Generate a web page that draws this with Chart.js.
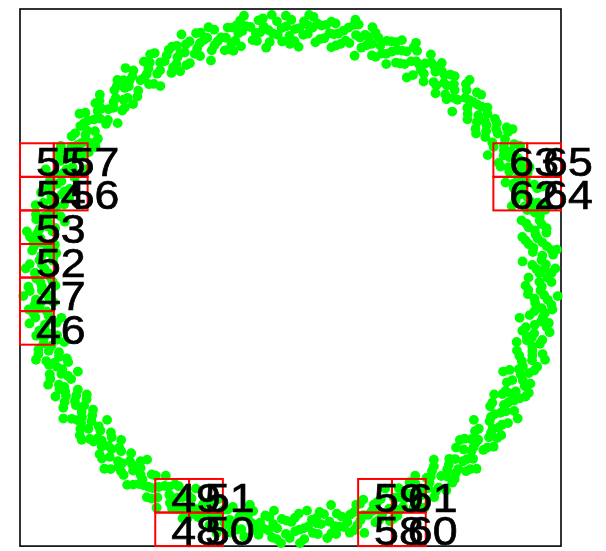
<!DOCTYPE html>
<html>
<head>
<meta charset="utf-8">
<script src="https://cdn.jsdelivr.net/npm/chart.js@4.4.1/dist/chart.umd.min.js"></script>
<style>
  body { margin: 0; background: #fff; }
  canvas { display: block; }
</style>
</head>
<body>
<canvas id="ring" width="606" height="551"></canvas>
<script>
const ringQ1 = [
[0.880,0.000],[0.950,0.000],[0.909,0.032],[0.979,0.034],[0.939,0.033],[0.858,0.060],[0.928,0.065],
[0.896,0.095],[0.965,0.102],[0.985,0.104],[0.881,0.124],[0.931,0.131],[0.906,0.160],[0.946,0.167],[0.857,0.151],
[0.929,0.198],[0.880,0.187],[0.854,0.213],[0.922,0.230],[0.875,0.251],[0.942,0.270],[0.903,0.259],
[0.818,0.266],[0.884,0.287],[0.846,0.308],[0.912,0.332],[0.931,0.339],[0.825,0.334],[0.871,0.353],
[0.841,0.374],[0.877,0.391],[0.795,0.354],[0.854,0.416],[0.809,0.394],[0.777,0.413],[0.839,0.446],
[0.788,0.455],[0.849,0.490],[0.814,0.470],[0.729,0.456],[0.789,0.493],[0.746,0.503],[0.804,0.542],[0.821,0.553],
[0.720,0.523],[0.760,0.553],[0.725,0.567],[0.756,0.591],[0.686,0.536],[0.728,0.611],[0.689,0.579],
[0.654,0.589],[0.706,0.636],[0.654,0.632],[0.705,0.681],[0.676,0.653],[0.598,0.618],[0.646,0.669],
[0.602,0.669],[0.649,0.721],[0.662,0.736],[0.572,0.682],[0.604,0.720],[0.567,0.725],[0.591,0.756],[0.536,0.686],
[0.559,0.769],[0.529,0.728],[0.492,0.730],[0.531,0.788],[0.482,0.772],[0.519,0.831],[0.498,0.797],
[0.430,0.745],[0.465,0.805],[0.422,0.795],[0.455,0.857],[0.464,0.874],[0.390,0.800],[0.412,0.845],
[0.374,0.841],[0.391,0.877],[0.354,0.795],[0.356,0.881],[0.338,0.834],[0.301,0.827],[0.325,0.893],
[0.281,0.865],[0.303,0.932],[0.290,0.894],[0.237,0.826],[0.257,0.894],[0.218,0.873],[0.235,0.941],[0.240,0.960],
[0.185,0.870],[0.196,0.919],[0.160,0.906],[0.167,0.946],[0.151,0.857],[0.132,0.941],[0.125,0.891],
[0.092,0.876],[0.100,0.945],[0.064,0.908],[0.069,0.978],[0.066,0.938],[0.030,0.859],[0.033,0.929],
[0.920,0.016],[0.965,0.017],[0.894,0.047],[0.944,0.049],[0.931,0.082],[0.971,0.085],[0.898,0.110],[0.948,0.116],
[0.869,0.138],[0.914,0.145],[0.903,0.176],[0.947,0.184],[0.872,0.201],[0.921,0.213],[0.903,0.242],[0.942,0.252],
[0.865,0.265],[0.913,0.279],[0.832,0.287],[0.875,0.301],[0.859,0.330],[0.901,0.346],[0.824,0.350],[0.870,0.369],
[0.847,0.395],[0.884,0.412],[0.806,0.411],[0.851,0.434],[0.770,0.427],[0.809,0.448],[0.789,0.474],[0.827,0.497],
[0.751,0.487],[0.793,0.515],[0.766,0.536],[0.799,0.559],[0.723,0.545],[0.763,0.575],[0.684,0.554],[0.719,0.582],
[0.694,0.604],[0.728,0.633],[0.655,0.610],[0.691,0.644],[0.661,0.661],[0.689,0.689],[0.617,0.662],[0.651,0.698],
[0.577,0.664],[0.607,0.698],[0.579,0.715],[0.607,0.750],[0.539,0.715],[0.569,0.755],[0.536,0.766],[0.559,0.799],
[0.493,0.759],[0.520,0.801],[0.453,0.754],[0.476,0.793],[0.446,0.805],[0.468,0.844],[0.406,0.797],[0.429,0.842],
[0.395,0.847],[0.412,0.884],[0.354,0.833],[0.373,0.879],[0.315,0.822],[0.332,0.864],[0.300,0.870],[0.314,0.912],
[0.262,0.856],[0.276,0.904],[0.242,0.903],[0.252,0.942],[0.204,0.882],[0.215,0.931],[0.168,0.864],[0.176,0.908],
[0.144,0.909],[0.151,0.953],[0.109,0.888],[0.115,0.938],[0.082,0.931],[0.085,0.971],[0.047,0.904],[0.050,0.954],
[0.015,0.880],[0.016,0.925]
];
const ringQ2 = [
[-0.004,0.900],[0.003,0.960],[-0.002,0.870],[-0.033,0.929],[-0.031,0.879],[-0.069,0.978],[-0.064,0.908],
[-0.090,0.856],[-0.099,0.935],[-0.102,0.965],[-0.128,0.911],[-0.124,0.881],[-0.165,0.936],[-0.172,0.975],
[-0.183,0.861],[-0.193,0.910],[-0.200,0.939],[-0.218,0.873],[-0.232,0.931],[-0.211,0.844],
[-0.257,0.894],[-0.243,0.846],[-0.303,0.932],[-0.281,0.865],[-0.294,0.808],[-0.321,0.884],[-0.332,0.912],
[-0.345,0.853],[-0.334,0.825],[-0.387,0.868],[-0.403,0.905],[-0.385,0.791],[-0.407,0.836],[-0.420,0.863],
[-0.422,0.795],[-0.450,0.848],[-0.408,0.768],[-0.465,0.805],[-0.440,0.762],[-0.519,0.831],[-0.482,0.772],
[-0.481,0.713],[-0.525,0.779],[-0.542,0.804],[-0.541,0.744],[-0.523,0.720],[-0.585,0.749],[-0.610,0.780],
[-0.566,0.674],[-0.598,0.712],[-0.617,0.735],[-0.602,0.669],[-0.642,0.713],[-0.582,0.646],
[-0.646,0.669],[-0.612,0.633],[-0.705,0.681],[-0.654,0.632],[-0.639,0.575],[-0.698,0.629],[-0.721,0.649],
[-0.705,0.592],[-0.682,0.572],[-0.749,0.585],[-0.780,0.610],[-0.712,0.517],[-0.752,0.547],[-0.777,0.564],
[-0.746,0.503],[-0.796,0.537],[-0.721,0.486],[-0.789,0.493],[-0.746,0.466],[-0.849,0.490],[-0.788,0.455],
[-0.759,0.403],[-0.830,0.441],[-0.857,0.455],[-0.827,0.403],[-0.800,0.390],[-0.868,0.387],[-0.905,0.403],
[-0.816,0.330],[-0.862,0.349],[-0.890,0.360],[-0.846,0.308],[-0.902,0.328],[-0.818,0.298],
[-0.884,0.287],[-0.837,0.272],[-0.942,0.270],[-0.875,0.251],[-0.834,0.208],[-0.912,0.227],[-0.941,0.235],
[-0.900,0.191],[-0.870,0.185],[-0.936,0.165],[-0.975,0.172],[-0.871,0.122],[-0.921,0.129],[-0.950,0.133],
[-0.896,0.095],[-0.955,0.101],[-0.866,0.091],[-0.928,0.065],[-0.878,0.062],[-0.979,0.034],[-0.909,0.032],
[-0.016,0.935],[-0.017,0.975],[-0.047,0.904],[-0.050,0.954],[-0.077,0.877],[-0.081,0.921],[-0.112,0.913],[-0.118,0.958],
[-0.140,0.884],[-0.148,0.933],[-0.178,0.918],[-0.186,0.957],[-0.204,0.882],[-0.215,0.931],[-0.228,0.850],[-0.239,0.893],
[-0.269,0.880],[-0.282,0.923],[-0.291,0.846],[-0.308,0.893],[-0.335,0.873],[-0.349,0.910],[-0.354,0.833],[-0.373,0.879],
[-0.372,0.798],[-0.391,0.838],[-0.418,0.820],[-0.438,0.860],[-0.434,0.783],[-0.458,0.827],[-0.482,0.801],[-0.502,0.836],
[-0.493,0.759],[-0.520,0.801],[-0.505,0.721],[-0.531,0.758],[-0.554,0.735],[-0.581,0.771],[-0.563,0.696],[-0.595,0.734],
[-0.613,0.706],[-0.640,0.736],[-0.617,0.662],[-0.651,0.698],[-0.622,0.622],[-0.654,0.654],[-0.673,0.627],[-0.706,0.658],
[-0.675,0.587],[-0.713,0.620],[-0.727,0.588],[-0.758,0.614],[-0.723,0.545],[-0.763,0.575],[-0.721,0.505],[-0.758,0.531],
[-0.772,0.501],[-0.809,0.526],[-0.767,0.461],[-0.810,0.487],[-0.818,0.453],[-0.853,0.473],[-0.806,0.411],[-0.851,0.434],
[-0.798,0.372],[-0.838,0.391],[-0.847,0.359],[-0.888,0.377],[-0.836,0.321],[-0.882,0.339],[-0.884,0.304],[-0.922,0.317],
[-0.865,0.265],[-0.913,0.279],[-0.850,0.228],[-0.893,0.239],[-0.896,0.207],[-0.940,0.217],[-0.879,0.171],[-0.928,0.180],
[-0.924,0.146],[-0.963,0.152],[-0.898,0.110],[-0.948,0.116],[-0.877,0.077],[-0.921,0.081],[-0.919,0.048],[-0.964,0.050],
[-0.895,0.016],[-0.945,0.017]
];
const ringQ3 = [
[-0.940,-0.004],[-0.890,0.004],[-0.969,-0.034],[-0.869,-0.030],[-0.919,-0.032],[-0.898,-0.063],[-0.988,-0.069],
[-0.876,-0.092],[-0.945,-0.100],[-0.925,-0.098],[-0.950,-0.133],[-0.901,-0.126],[-0.847,-0.150],[-0.965,-0.171],[-0.887,-0.157],
[-0.910,-0.193],[-0.929,-0.198],[-0.912,-0.227],[-0.863,-0.215],[-0.932,-0.268],[-0.836,-0.240],[-0.884,-0.254],
[-0.856,-0.278],[-0.941,-0.306],[-0.827,-0.301],[-0.893,-0.325],[-0.874,-0.318],[-0.890,-0.360],[-0.844,-0.341],
[-0.786,-0.350],[-0.896,-0.399],[-0.823,-0.366],[-0.836,-0.407],[-0.854,-0.416],[-0.830,-0.441],[-0.786,-0.417],
[-0.840,-0.485],[-0.753,-0.435],[-0.797,-0.460],[-0.763,-0.477],[-0.840,-0.525],[-0.730,-0.492],[-0.788,-0.531],[-0.771,-0.520],
[-0.777,-0.564],[-0.736,-0.535],[-0.678,-0.530],[-0.772,-0.604],[-0.709,-0.554],[-0.712,-0.598],[-0.728,-0.611],
[-0.698,-0.629],[-0.661,-0.595],[-0.697,-0.674],[-0.626,-0.605],[-0.661,-0.639],[-0.626,-0.647],[-0.688,-0.712],
[-0.589,-0.654],[-0.636,-0.706],[-0.622,-0.691],[-0.617,-0.735],[-0.585,-0.697],[-0.530,-0.678],[-0.604,-0.772],[-0.554,-0.709],
[-0.547,-0.752],[-0.559,-0.769],[-0.525,-0.779],[-0.498,-0.738],[-0.514,-0.823],[-0.461,-0.738],[-0.488,-0.780],
[-0.450,-0.779],[-0.495,-0.857],[-0.413,-0.777],[-0.446,-0.839],[-0.436,-0.821],[-0.420,-0.863],[-0.399,-0.818],
[-0.350,-0.786],[-0.399,-0.896],[-0.366,-0.823],[-0.349,-0.862],[-0.356,-0.881],[-0.321,-0.884],[-0.304,-0.837],
[-0.300,-0.922],[-0.269,-0.827],[-0.284,-0.875],[-0.248,-0.865],[-0.273,-0.951],[-0.213,-0.854],[-0.230,-0.922],[-0.225,-0.902],
[-0.200,-0.939],[-0.189,-0.890],[-0.150,-0.847],[-0.171,-0.965],[-0.157,-0.887],[-0.129,-0.921],[-0.132,-0.941],
[-0.099,-0.935],[-0.093,-0.886],[-0.068,-0.968],[-0.061,-0.868],[-0.064,-0.918],[-0.032,-0.899],[-0.035,-0.989],
[-0.880,-0.015],[-0.925,-0.016],[-0.919,-0.048],[-0.964,-0.050],[-0.892,-0.078],[-0.941,-0.082],[-0.928,-0.114],[-0.968,-0.119],
[-0.894,-0.142],[-0.943,-0.149],[-0.864,-0.168],[-0.908,-0.176],[-0.896,-0.207],[-0.940,-0.217],[-0.864,-0.232],[-0.913,-0.245],
[-0.894,-0.273],[-0.932,-0.285],[-0.856,-0.295],[-0.903,-0.311],[-0.822,-0.315],[-0.864,-0.332],[-0.847,-0.359],[-0.888,-0.377],
[-0.811,-0.378],[-0.856,-0.399],[-0.833,-0.424],[-0.869,-0.443],[-0.792,-0.439],[-0.835,-0.463],[-0.754,-0.453],[-0.793,-0.476],
[-0.772,-0.501],[-0.809,-0.526],[-0.733,-0.513],[-0.774,-0.542],[-0.747,-0.563],[-0.779,-0.587],[-0.703,-0.570],[-0.742,-0.601],
[-0.664,-0.577],[-0.698,-0.607],[-0.673,-0.627],[-0.706,-0.658],[-0.633,-0.633],[-0.668,-0.668],[-0.638,-0.684],[-0.665,-0.713],
[-0.594,-0.683],[-0.627,-0.721],[-0.554,-0.684],[-0.582,-0.719],[-0.554,-0.735],[-0.581,-0.771],[-0.513,-0.733],[-0.542,-0.774],
[-0.509,-0.784],[-0.531,-0.818],[-0.466,-0.776],[-0.492,-0.819],[-0.427,-0.770],[-0.448,-0.809],[-0.418,-0.820],[-0.438,-0.860],
[-0.378,-0.811],[-0.399,-0.856],[-0.365,-0.861],[-0.381,-0.897],[-0.324,-0.845],[-0.342,-0.892],[-0.287,-0.832],[-0.301,-0.875],
[-0.269,-0.880],[-0.282,-0.923],[-0.232,-0.864],[-0.245,-0.913],[-0.210,-0.911],[-0.219,-0.950],[-0.173,-0.888],[-0.182,-0.937],
[-0.138,-0.869],[-0.145,-0.914],[-0.112,-0.913],[-0.118,-0.958],[-0.078,-0.892],[-0.082,-0.941],[-0.049,-0.934],[-0.051,-0.974],
[-0.016,-0.905],[-0.017,-0.955]
];
const ringQ4 = [
[0.004,-0.910],[-0.003,-0.970],[0.031,-0.879],[0.033,-0.939],[0.035,-0.989],[0.065,-0.928],[0.061,-0.868],
[0.101,-0.955],[0.095,-0.896],[0.097,-0.915],[0.124,-0.881],[0.136,-0.970],[0.164,-0.926],[0.150,-0.847],[0.169,-0.955],
[0.189,-0.890],[0.198,-0.929],[0.220,-0.883],[0.235,-0.941],[0.243,-0.846],[0.259,-0.903],[0.273,-0.951],
[0.287,-0.884],[0.269,-0.827],[0.328,-0.902],[0.308,-0.846],[0.315,-0.865],[0.334,-0.825],[0.368,-0.908],
[0.383,-0.859],[0.350,-0.786],[0.395,-0.887],[0.399,-0.818],[0.416,-0.854],[0.427,-0.804],[0.455,-0.857],
[0.440,-0.762],[0.470,-0.814],[0.495,-0.857],[0.493,-0.789],[0.461,-0.738],[0.537,-0.796],[0.503,-0.746],[0.514,-0.763],
[0.523,-0.720],[0.576,-0.793],[0.579,-0.741],[0.530,-0.678],[0.598,-0.764],[0.585,-0.697],[0.611,-0.728],
[0.609,-0.676],[0.649,-0.721],[0.612,-0.633],[0.653,-0.676],[0.688,-0.712],[0.669,-0.646],[0.626,-0.605],
[0.713,-0.642],[0.669,-0.602],[0.684,-0.615],[0.682,-0.572],[0.751,-0.630],[0.741,-0.579],[0.678,-0.530],[0.764,-0.598],
[0.736,-0.535],[0.769,-0.559],[0.754,-0.509],[0.804,-0.542],[0.746,-0.466],[0.797,-0.498],[0.840,-0.525],
[0.805,-0.465],[0.753,-0.435],[0.848,-0.450],[0.795,-0.422],[0.812,-0.431],[0.800,-0.390],[0.881,-0.429],
[0.859,-0.383],[0.786,-0.350],[0.887,-0.395],[0.844,-0.341],[0.881,-0.356],[0.855,-0.311],[0.912,-0.332],
[0.837,-0.272],[0.894,-0.290],[0.941,-0.306],[0.894,-0.257],[0.836,-0.240],[0.931,-0.232],[0.873,-0.218],[0.892,-0.223],
[0.870,-0.185],[0.958,-0.204],[0.926,-0.164],[0.847,-0.150],[0.955,-0.169],[0.901,-0.126],[0.941,-0.132],
[0.905,-0.096],[0.965,-0.102],[0.878,-0.062],[0.938,-0.066],[0.988,-0.069],[0.929,-0.033],[0.869,-0.030],
[0.016,-0.895],[0.017,-0.945],[0.049,-0.934],[0.051,-0.974],[0.079,-0.902],[0.083,-0.951],[0.107,-0.873],[0.113,-0.918],
[0.144,-0.909],[0.151,-0.953],[0.171,-0.879],[0.180,-0.928],[0.210,-0.911],[0.219,-0.950],[0.234,-0.874],[0.247,-0.922],
[0.257,-0.842],[0.270,-0.885],[0.300,-0.870],[0.314,-0.912],[0.321,-0.836],[0.339,-0.882],[0.365,-0.861],[0.381,-0.897],
[0.382,-0.820],[0.404,-0.866],[0.400,-0.784],[0.420,-0.824],[0.446,-0.805],[0.468,-0.844],[0.461,-0.767],[0.487,-0.810],
[0.509,-0.784],[0.531,-0.818],[0.519,-0.741],[0.548,-0.782],[0.530,-0.703],[0.557,-0.739],[0.579,-0.715],[0.607,-0.750],
[0.587,-0.675],[0.620,-0.713],[0.638,-0.684],[0.665,-0.713],[0.640,-0.640],[0.675,-0.675],[0.644,-0.600],[0.677,-0.631],
[0.694,-0.604],[0.728,-0.633],[0.696,-0.563],[0.734,-0.595],[0.747,-0.563],[0.779,-0.587],[0.741,-0.519],[0.782,-0.548],
[0.738,-0.479],[0.776,-0.504],[0.789,-0.474],[0.827,-0.497],[0.783,-0.434],[0.827,-0.458],[0.833,-0.424],[0.869,-0.443],
[0.820,-0.382],[0.866,-0.404],[0.810,-0.344],[0.851,-0.361],[0.859,-0.330],[0.901,-0.346],[0.846,-0.291],[0.893,-0.308],
[0.894,-0.273],[0.932,-0.285],[0.874,-0.234],[0.922,-0.247],[0.857,-0.198],[0.901,-0.208],[0.903,-0.176],[0.947,-0.184],
[0.884,-0.140],[0.933,-0.148],[0.928,-0.114],[0.968,-0.119],[0.902,-0.079],[0.951,-0.083],[0.879,-0.046],[0.924,-0.048],
[0.920,-0.016],[0.965,-0.017]
];

// etiquetas y la celda (columna, fila) de una grilla de 16x16 donde va cada una
const labelTexts = ['46','47','52','53','54','55','56','57','48','49','50','51','58','59','60','61','62','63','64','65'];
const labelCols  = [0, 0, 0, 0, 0, 0, 1, 1, 4, 4, 5, 5, 10, 10, 11, 11, 14, 14, 15, 15];
const labelRows  = [9, 8, 7, 6, 5, 4, 5, 4, 15, 14, 15, 14, 15, 14, 15, 14, 5, 4, 5, 4];
const gridCells = 16;

const allPoints = ringQ1.concat(ringQ2, ringQ3, ringQ4).map(p => ({x: p[0], y: p[1]}));

// marco negro del area del grafico
const marco = {
  id: 'marco',
  beforeDatasetsDraw(chart) {
    const {ctx, chartArea: a} = chart;
    ctx.save();
    ctx.strokeStyle = '#000';
    ctx.lineWidth = 1.6;
    ctx.strokeRect(a.left, a.top, a.right - a.left, a.bottom - a.top);
    ctx.restore();
  }
};

// cajas rojas y numeros encima de los puntos
const etiquetas = {
  id: 'etiquetas',
  afterDatasetsDraw(chart) {
    const {ctx} = chart;
    const sx = chart.scales.x, sy = chart.scales.y;
    const paso = 2 / gridCells;
    ctx.save();
    ctx.strokeStyle = '#ff0000';
    ctx.lineWidth = 2;
    for (let i = 0; i < labelTexts.length; i++) {
      const x0 = sx.getPixelForValue(-1 + labelCols[i] * paso);
      const x1 = sx.getPixelForValue(-1 + (labelCols[i] + 1) * paso);
      const y0 = sy.getPixelForValue(1 - labelRows[i] * paso);
      const y1 = sy.getPixelForValue(1 - (labelRows[i] + 1) * paso);
      ctx.strokeRect(x0, y0, x1 - x0, y1 - y0);
    }
    ctx.fillStyle = '#000';
    ctx.strokeStyle = '#000';
    ctx.lineWidth = 0.7;
    ctx.font = '41px "Liberation Sans", Arial, sans-serif';
    ctx.textAlign = 'left';
    ctx.textBaseline = 'alphabetic';
    for (let i = 0; i < labelTexts.length; i++) {
      const xc = sx.getPixelForValue(-1 + (labelCols[i] + 0.5) * paso) - 1;
      const yb = sy.getPixelForValue(1 - (labelRows[i] + 1) * paso) - 1;
      // el texto original se ve algo mas ancho que alto
      ctx.setTransform(1.09, 0, 0, 1, xc, yb);
      ctx.fillText(labelTexts[i], 0, 0);
      ctx.strokeText(labelTexts[i], 0, 0);
    }
    ctx.restore();
  }
};

new Chart(document.getElementById('ring'), {
  type: 'scatter',
  data: {
    datasets: [{
      data: allPoints,
      backgroundColor: '#00ff00',
      borderWidth: 0,
      pointRadius: 4.9,
      pointHoverRadius: 4.9,
      clip: false
    }]
  },
  options: {
    responsive: false,
    animation: false,
    events: [],
    layout: { padding: { left: 20, top: 9, right: 45, bottom: 2 } },
    plugins: { legend: { display: false }, tooltip: { enabled: false } },
    scales: {
      x: { type: 'linear', min: -1, max: 1, display: false },
      y: { type: 'linear', min: -1, max: 1, display: false }
    }
  },
  plugins: [marco, etiquetas]
});
</script>
</body>
</html>
